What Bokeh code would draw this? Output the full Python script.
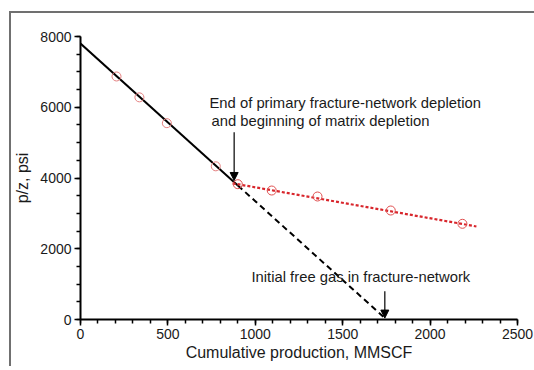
from bokeh.plotting import figure
from bokeh.models import (Range1d, SingleIntervalTicker, Label, Arrow, NormalHead)
from bokeh.embed import file_html
from bokeh.resources import INLINE

# p/z measurements, primary fracture-network depletion period
prim_q = [206, 337, 494, 774]
prim_pz = [6870, 6280, 5550, 4330]
# p/z measurements, matrix depletion period
mat_q = [900, 1094, 1356, 1775, 2185]
mat_pz = [3825, 3646, 3477, 3081, 2705]

# straight-line fit through the early data and its extrapolation to p/z = 0
fit_q = [0, 900]
fit_pz = [7800, 3790]
extrap_q = [900, 1750]
extrap_pz = [3790, 0]
# straight-line fit through the late data
mat_fit_q = [870, 2265]
mat_fit_pz = [3850, 2630]

FONT = "Liberation Sans"
TXT = "#1a1a1a"

# page border drawn around the figure; the canvas starts just inside it
p = figure(frame_width=437, frame_height=283,
           min_border_left=66, min_border_top=23,
           min_border_right=20, min_border_bottom=47,
           x_range=Range1d(0, 2500), y_range=Range1d(0, 8000),
           output_backend="svg", toolbar_location=None)
p.styles = {"border-left": "2px solid #707070", "border-top": "2px solid #707070",
            "border-right": "none", "border-bottom": "none", "outline": "none",
            "margin-left": "9px", "margin-top": "11px"}
p.grid.visible = False
p.outline_line_color = None
p.background_fill_color = "white"
p.border_fill_color = "white"

p.xaxis.ticker = SingleIntervalTicker(interval=500, num_minor_ticks=5)
p.yaxis.ticker = SingleIntervalTicker(interval=2000, num_minor_ticks=4)

for ax in (p.xaxis, p.yaxis):
    ax.axis_line_width = 2
    ax.axis_line_color = "black"
    ax.major_tick_line_color = "black"
    ax.minor_tick_line_color = "black"
    ax.major_tick_line_width = 1.5
    ax.minor_tick_line_width = 1.5
    ax.major_tick_in = 0
    ax.minor_tick_in = 0
    ax.major_tick_out = 6
    ax.minor_tick_out = 4
    ax.major_label_text_font = FONT
    ax.major_label_text_font_size = "14px"
    ax.major_label_text_color = TXT
    ax.axis_label_text_font = FONT
    ax.axis_label_text_font_size = "16px"
    ax.axis_label_text_font_style = "normal"
    ax.axis_label_text_color = TXT

p.xaxis.axis_label = "Cumulative production, MMSCF"
p.yaxis.axis_label = "p/z, psi"
p.xaxis.major_label_standoff = 3
p.xaxis.axis_label_standoff = 2
p.yaxis.major_label_standoff = 3
p.yaxis.axis_label_standoff = 6

# fitted lines
p.line(fit_q, fit_pz, line_color="black", line_width=2)
p.line(extrap_q, extrap_pz, line_color="black", line_width=2, line_dash="6 4")
p.line(mat_fit_q, mat_fit_pz, line_color="#d8262c", line_width=2.2, line_dash="3 2")

# data points
p.scatter(prim_q, prim_pz, marker="circle", size=9, fill_color=None,
          line_color="#e58080", line_width=1)
p.scatter(mat_q, mat_pz, marker="circle", size=9, fill_color=None,
          line_color="#e05050", line_width=1)

# annotations
for txt, x, y in (("End of primary fracture-network depletion", 738, 6130),
                  ("and beginning of matrix depletion", 749, 5625),
                  ("Initial free gas in fracture-network", 978, 1196)):
    p.add_layout(Label(x=x, y=y, text=txt, text_font=FONT,
                       text_font_size="14.8px", text_color=TXT,
                       text_baseline="middle"))

p.add_layout(Arrow(end=NormalHead(size=8, fill_color="black", line_color="black"),
                   x_start=879, y_start=5290, x_end=879, y_end=3930,
                   line_color="black", line_width=1.2))
p.add_layout(Arrow(end=NormalHead(size=8, fill_color="black", line_color="black"),
                   x_start=1741, y_start=800, x_end=1741, y_end=40,
                   line_color="black", line_width=1.2))

open("out.html", "w").write(file_html(p, INLINE))
